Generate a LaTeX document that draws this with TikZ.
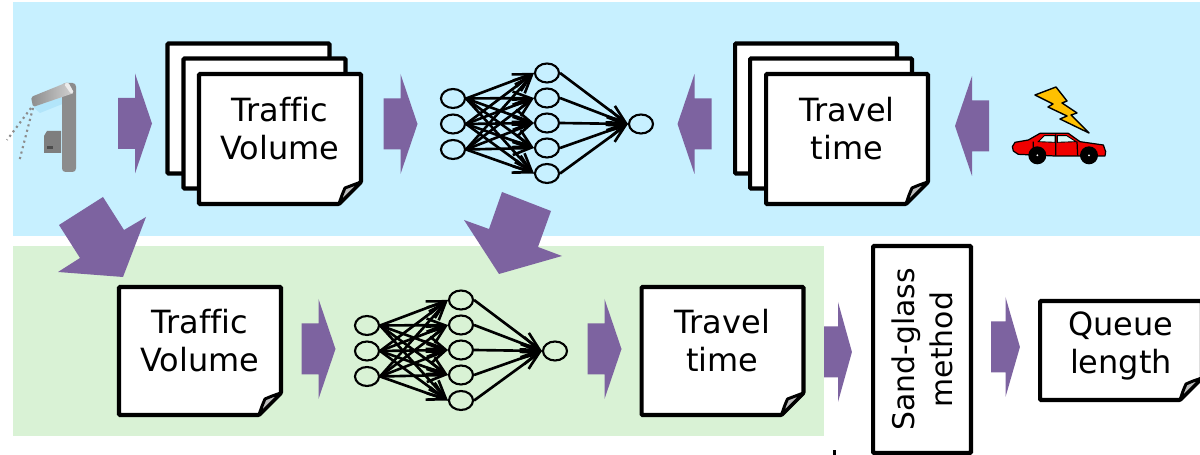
\documentclass[tikz,border=0pt]{standalone}
\usepackage{fontspec}
\usepackage{tikz}
\usetikzlibrary{shapes.geometric}
\usetikzlibrary{arrows.meta}
\setmainfont[Ligatures=NoCommon]{DejaVu Sans}
\definecolor{skyband}{HTML}{C7F0FF}
\definecolor{greenband}{HTML}{D9F2D5}
\definecolor{arrowpurple}{HTML}{7D63A0}
\definecolor{foldgray}{HTML}{BDBDBD}
\definecolor{polegray}{HTML}{8C8C8C}
\definecolor{carred}{HTML}{F00000}
\definecolor{boltyellow}{HTML}{FFC000}
\definecolor{glasscyan}{HTML}{D8FAFA}
\tikzset{
    sheet/.style = {draw = black, fill = white, line width = 2.3pt, outer sep = 0pt,
        rounded corners = 0.5pt, minimum width = 3.24cm, minimum height = 2.6cm,
        align = center, font = \fontsize{18.2pt}{21.6pt}\selectfont},
    blank/.style = {sheet, draw = none, fill = none},
    neuron/.style = {ellipse, draw = black, line width = 1.2pt, inner sep = 0pt,
        minimum width = 0.48cm, minimum height = 0.38cm},
    synapse/.style = {line width = 1.5pt, -{Straight Barb[length = 10pt, width = 7.5pt]}},
    blockarrow/.pic = {
        \fill[arrowpurple] (-17,-25.5) -- (0,-25.5) -- (0,-50) -- (17,0) -- (0,50)
            -- (0,25.5) -- (-17,25.5) -- cycle;
    }
}
% a page with a turned corner
\newcommand{\docpage}[6]{
    \node[blank, minimum height = #4] (#1) at (#2,#3) {};
    \draw[line width = 2.3pt, fill = white, rounded corners = 0.5pt] (#1.north west) -- (#1.north east)
        -- ([shift={(0,-22)}]#1.south east) -- ([shift={(-22,0)}]#1.south east)
        -- (#1.south west) -- cycle;
    \draw[line width = 1.7pt, fill = foldgray, line join = round] ([shift={(-22,0)}]#1.south east)
        .. controls ([shift={(-19,-9)}]#1.south east) .. ([shift={(-16,-16)}]#1.south east)
        .. controls ([shift={(-9,-19)}]#1.south east) .. ([shift={(0,-22)}]#1.south east) -- cycle;
    \node[blank, minimum height = #4] (#1-text) at ([shift={(0,#6)}]#1) {#5};
}
\newcommand{\neuralnet}{
    \foreach \i/\py in {1/-25.5, 2/0, 3/25.5}
        \node[neuron] (in-\i) at (-94,\py) {};
    \foreach \j/\py in {1/-51, 2/-26, 3/-1, 4/24, 5/49.5}
        \node[neuron] (mid-\j) at (0,\py) {};
    \node[neuron] (out) at (94,0) {};
    \foreach \i in {1,2,3}
        \foreach \j in {1,2,3,4,5}
            \draw[synapse] (in-\i.east) -- (mid-\j.west);
    \foreach \j in {1,2,3,4,5}
        \draw[synapse] (mid-\j.east) -- (out.west);
}
\begin{document}
\begin{tikzpicture}[x = 0.02cm, y = -0.02cm]
    \useasboundingbox (0,0) rectangle (1200,455);
    \fill[skyband] (13,2) rectangle (1200,236);
    \fill[greenband] (13,246) rectangle (824,436);

    % roadside sensor
    \fill[cyan!30!skyband, opacity = 0.35] (33,107) -- (74,93) -- (70,101) -- (40,113) -- cycle;
    \draw[polegray, line width = 1.2pt, dotted] (31,108) -- (7,140);
    \draw[polegray, line width = 1.2pt, dotted] (33,108) -- (19,162);
    \fill[polegray, rounded corners = 2pt] (62,83) rectangle (76,172);
    \shade[left color = gray!90, right color = gray!35, rounded corners = 1pt]
        (31,97) -- (68,82) -- (74,93) -- (33,107) -- cycle;
    \fill[gray!15, rounded corners = 1pt] (64,84) -- (68,82) -- (74,93) -- (71,94) -- cycle;
    \fill[polegray!90!black] (44,136) -- (47,131) -- (61,131) -- (61,153) -- (44,153) -- cycle;
    \fill[black!70] (47,146) rectangle (53,149);

    % upper row
    \node[sheet] (volume-back) at (248.5,108.5) {};
    \node[sheet] (volume-mid) at (264.5,123.5) {};
    \docpage{volume}{280}{139}{2.6cm}{Traffic\\Volume}{-10}
    \begin{scope}[shift = {(547,124)}, name prefix = upper-]
        \neuralnet
    \end{scope}
    \node[sheet] (travel-back) at (816,108.5) {};
    \node[sheet] (travel-mid) at (831,123.5) {};
    \docpage{travel}{847}{139}{2.6cm}{Travel\\time}{-10}

    % car and lightning
    \begin{scope}[shift = {(1005,125)}, x = 0.00667cm, y = -0.00667cm]
        \filldraw[fill = carred, line width = 0.7pt, line join = round] (22,65) -- (30,52) -- (70,45)
            -- (105,25) -- (190,25) -- (225,50) -- (295,60) -- (302,80) -- (300,93) -- (150,93)
            -- (40,88) -- (25,78) -- cycle;
        \filldraw[fill = glasscyan, line width = 0.5pt] (100,50) -- (118,32) -- (150,32) -- (150,52) -- cycle;
        \filldraw[fill = glasscyan, line width = 0.5pt] (157,32) -- (185,32) -- (213,50) -- (157,52) -- cycle;
        \draw[line width = 0.7pt] (152,28) -- (152,92) (85,50) -- (85,88) (216,50) -- (218,92);
        \foreach \wx in {97,252} {
            \fill[black] (\wx,91) circle (27);
            \fill[white] (\wx,91) circle (3);
        }
    \end{scope}
    \filldraw[fill = boltyellow, line width = 0.8pt, line join = round] (1035,95) -- (1056,87) -- (1067,101)
        -- (1062,103) -- (1077,113) -- (1071,115) -- (1089,133) -- (1060,119) -- (1067,116)
        -- (1048,107) -- (1053,104) -- cycle;

    % lower row
    \docpage{volume-low}{200}{351}{2.56cm}{Traffic\\Volume}{-10}
    \begin{scope}[shift = {(461,351)}, name prefix = lower-]
        \neuralnet
    \end{scope}
    \docpage{travel-low}{722.5}{351}{2.56cm}{Travel\\time}{-10}
    \node[sheet, font = \fontsize{17pt}{21.6pt}\selectfont, rotate = 90, minimum width = 4.14cm, minimum height = 1.96cm] (sandglass) at (922,349.5) {Sand-glass\\method};
    \docpage{queue}{1121}{350.5}{1.98cm}{Queue\\length}{-5}

    % block arrows
    \foreach \px/\py/\rot in {135/123.5/0, 400.5/124/0, 694.5/124/180, 972/126/180, 318.5/349/0, 604.5/349/0}
        \pic[rotate = \rot] at (\px,\py) {blockarrow};
    \pic[xscale = 0.82] at (838,352) {blockarrow};
    \pic[xscale = 0.85] at (1005.5,347) {blockarrow};
    \fill[arrowpurple] (103,197) -- (59,225) -- (80,258) -- (58,272) -- (123,277) -- (146,217) -- (124,230) -- cycle;
    \fill[arrowpurple] (502,192) -- (551,211) -- (538,247) -- (562,256) -- (499,274) -- (464,220) -- (489,229) -- cycle;
    \fill[black] (833,450) rectangle (836,455);
\end{tikzpicture}
\end{document}
